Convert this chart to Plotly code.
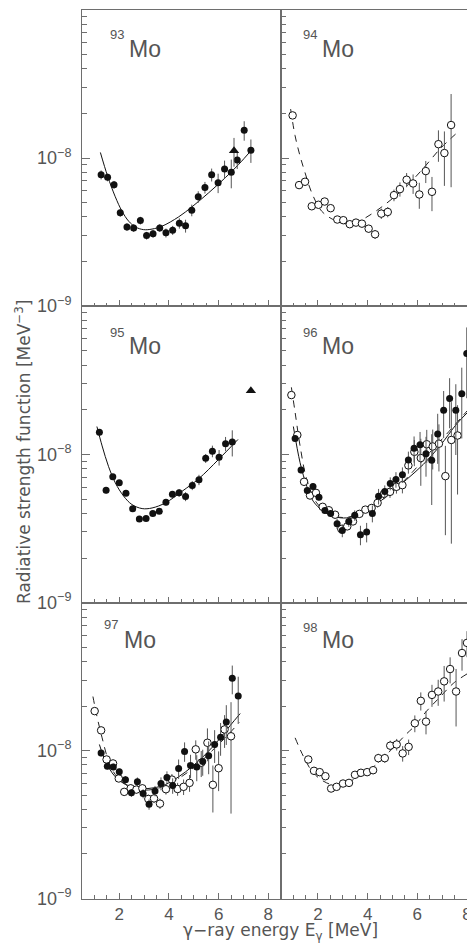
import plotly.graph_objects as go

# ---------------- data (strength values in units of 1e-9 MeV^-3) ----------------
# 93Mo (filled circles + triangle, solid fit)
E93 = [1.27, 1.53, 1.79, 2.04, 2.31, 2.58, 2.85, 3.10, 3.36, 3.63, 3.88, 4.15, 4.42, 4.67,
       4.92, 5.18, 5.45, 5.72, 5.98, 6.24, 6.51, 6.75, 7.03, 7.30]
S93 = [7.7, 7.4, 6.6, 4.26, 3.42, 3.37, 3.78, 2.99, 3.08, 3.37, 3.12, 3.25, 3.62, 3.48,
       4.44, 5.47, 6.32, 7.71, 6.81, 8.42, 8.0, 9.69, 15.4, 11.3]
R93 = [0.07, 0.06, 0.06, 0.06, 0.06, 0.06, 0.06, 0.06, 0.06, 0.06, 0.07, 0.07, 0.08, 0.1,
       0.09, 0.09, 0.09, 0.10, 0.15, 0.14, 0.22, 0.13, 0.15, 0.18]
T93E = [6.62]
T93S = [11.2]
T93R = [0.22]
C93E = [1.24, 1.53, 1.84, 2.11, 2.38, 2.65, 2.98, 3.32, 3.72, 4.39, 4.93, 5.60, 6.27, 6.81, 7.30]
C93S = [10.9, 7.55, 5.47, 4.37, 3.74, 3.42, 3.28, 3.31, 3.46, 4.0, 4.68, 5.82, 7.36, 9.06, 11.2]

# 94Mo (open circles, dashed fit)
E94 = [0.98, 1.24, 1.48, 1.75, 2.02, 2.27, 2.51, 2.78, 3.02, 3.28, 3.53, 3.77, 4.04, 4.30,
       4.55, 4.81, 5.06, 5.30, 5.57, 5.83, 6.08, 6.34, 6.59, 6.85, 7.09, 7.36]
S94 = [19.4, 6.56, 6.91, 4.72, 4.83, 5.08, 4.58, 3.84, 3.80, 3.57, 3.66, 3.60, 3.33, 3.05,
       4.21, 4.32, 5.61, 6.16, 7.13, 6.73, 5.67, 8.16, 5.91, 12.4, 10.8, 16.7]
R94 = [0.03, 0.04, 0.04, 0.04, 0.04, 0.04, 0.04, 0.04, 0.04, 0.04, 0.05, 0.05, 0.06, 0.07,
       0.08, 0.08, 0.09, 0.11, 0.11, 0.15, 0.2, 0.17, 0.26, 0.24, 0.40, 0.62]
C94E = [0.90, 1.08, 1.28, 1.48, 1.75, 2.15, 2.69, 3.16, 3.69, 4.23, 4.90, 5.57, 6.24, 6.91, 7.54]
C94S = [21.4, 14.1, 10.3, 7.96, 5.82, 4.37, 3.78, 3.59, 3.78, 4.26, 5.16, 6.46, 8.51, 11.5, 14.5]

# 95Mo (filled circles + triangle, solid fit)
E95 = [1.20, 1.47, 1.74, 2.00, 2.27, 2.54, 2.81, 3.08, 3.35, 3.61, 3.88, 4.14, 4.41, 4.67,
       4.94, 5.21, 5.48, 5.75, 6.02, 6.28, 6.55]
S95 = [14.1, 5.73, 7.06, 6.43, 5.47, 4.29, 3.67, 3.70, 3.99, 4.13, 4.75, 5.39, 5.50, 5.20,
       6.17, 6.74, 9.4, 10.5, 9.55, 11.8, 12.1]
R95 = [0.04, 0.05, 0.04, 0.04, 0.04, 0.04, 0.04, 0.04, 0.04, 0.04, 0.05, 0.05, 0.06, 0.07,
       0.07, 0.08, 0.07, 0.09, 0.12, 0.11, 0.2]
T95E = [7.30]
T95S = [26.8]
C95E = [1.10, 1.31, 1.57, 1.84, 2.18, 2.51, 2.92, 3.32, 3.86, 4.53, 5.20, 6.00, 6.78]
C95S = [15.4, 11.4, 8.26, 6.43, 5.22, 4.59, 4.31, 4.35, 4.71, 5.64, 6.85, 9.25, 12.6]

# 96Mo (open + filled circles, dashed + solid fits)
E96o = [0.93, 1.17, 1.44, 1.68, 1.92, 2.19, 2.44, 2.69, 2.94, 3.18, 3.41, 3.67, 3.91, 4.16,
        4.40, 4.66, 4.90, 5.16, 5.40, 5.64, 5.88, 6.14, 6.38, 6.62, 6.87, 7.13, 7.37, 7.62]
S96o = [25.1, 13.5, 6.53, 5.28, 5.5, 4.43, 4.2, 3.92, 3.14, 3.27, 3.53, 3.97, 4.24, 4.35,
        4.71, 5.42, 5.59, 6.04, 6.2, 8.42, 10.4, 9.44, 11.7, 11.3, 11.8, 7.13, 12.5, 13.4]
R96o = [0.04, 0.04, 0.04, 0.04, 0.04, 0.04, 0.04, 0.04, 0.05, 0.05, 0.05, 0.05, 0.05, 0.06,
        0.07, 0.08, 0.09, 0.10, 0.12, 0.12, 0.2, 0.35, 0.25, 0.3, 0.35, 0.6, 0.8, 0.6]
E96f = [1.08, 1.32, 1.57, 1.80, 2.04, 2.28, 2.51, 2.77, 2.98, 3.24, 3.48, 3.71, 3.96, 4.19,
        4.44, 4.69, 4.91, 5.14, 5.40, 5.64, 5.87, 6.11, 6.35, 6.58, 6.82, 7.06, 7.30, 7.55,
        7.79, 7.99]
S96f = [12.8, 7.83, 5.70, 6.07, 5.14, 4.18, 4.0, 3.41, 3.07, 3.53, 3.88, 2.87, 3.0, 4.0,
        5.22, 5.61, 6.36, 6.77, 7.29, 9.15, 11.0, 11.6, 10.1, 9.11, 13.7, 19.8, 23.8, 19.8,
        25.6, 47.8]
R96f = [0.05, 0.05, 0.05, 0.05, 0.05, 0.05, 0.05, 0.08, 0.1, 0.08, 0.08, 0.15, 0.15, 0.13,
        0.12, 0.1, 0.1, 0.12, 0.12, 0.14, 0.2, 0.22, 0.3, 0.5, 0.37, 0.35, 0.37, 0.5, 0.5, 0.5]
C96sE = [1.01, 1.28, 1.55, 1.81, 2.22, 2.62, 3.16, 3.69, 4.23, 4.90, 5.57, 6.24, 6.91, 7.58, 8.0]
C96sS = [15.4, 8.79, 6.10, 4.83, 4.13, 3.82, 3.73, 3.99, 4.47, 5.44, 6.77, 8.55, 11.4, 16.0, 19.0]
C96dE = [0.93, 1.08, 1.28, 1.55, 1.95, 2.49, 3.16, 3.83, 4.50, 5.17, 5.84, 6.50, 7.18, 8.0]
C96dS = [28.3, 19.2, 11.4, 6.77, 4.71, 3.92, 3.76, 4.13, 4.83, 5.95, 7.71, 10.3, 13.7, 19.6]

# 97Mo (open + filled circles, dashed + solid fits)
E97o = [1.01, 1.27, 1.49, 1.75, 1.98, 2.20, 2.46, 2.69, 2.93, 3.17, 3.40, 3.64, 3.88, 4.12,
        4.35, 4.59, 4.83, 5.08, 5.30, 5.55, 5.77, 6.00, 6.24, 6.50]
S97o = [18.5, 13.7, 8.71, 8.19, 6.48, 5.26, 5.56, 5.45, 5.56, 4.71, 4.75, 4.38, 5.48, 6.37,
        5.5, 5.69, 6.05, 10.2, 8.28, 11.3, 5.87, 7.6, 13.9, 12.5]
R97o = [0.04, 0.05, 0.05, 0.05, 0.05, 0.05, 0.06, 0.06, 0.06, 0.07, 0.07, 0.08, 0.08, 0.09,
        0.1, 0.12, 0.13, 0.15, 0.2, 0.25, 0.35, 0.3, 0.25, 0.7]
E97f = [1.27, 1.52, 1.76, 2.00, 2.25, 2.49, 2.73, 2.96, 3.20, 3.44, 3.68, 3.92, 4.15, 4.39,
        4.63, 4.87, 5.12, 5.36, 5.60, 5.84, 6.08, 6.31, 6.55, 6.79]
S97f = [9.62, 7.85, 7.76, 7.19, 6.34, 5.18, 6.15, 5.12, 4.33, 5.34, 5.99, 6.58, 5.8, 7.57,
        9.88, 7.94, 7.76, 8.45, 9.23, 11.0, 12.3, 15.6, 30.8, 23.4]
R97f = [0.05, 0.05, 0.05, 0.05, 0.06, 0.06, 0.07, 0.07, 0.08, 0.08, 0.1, 0.1, 0.12, 0.15,
        0.15, 0.18, 0.2, 0.2, 0.25, 0.25, 0.25, 0.3, 0.22, 0.35]
C97sE = [1.20, 1.44, 1.71, 2.04, 2.45, 2.92, 3.39, 3.86, 4.39, 4.93, 5.47, 6.00, 6.47, 6.87]
C97sS = [11.0, 8.49, 7.08, 6.21, 5.74, 5.54, 5.6, 5.9, 6.65, 7.78, 9.42, 11.8, 14.8, 17.8]
C97dE = [0.94, 1.10, 1.31, 1.57, 1.84, 2.25, 2.78, 3.32, 3.86, 4.53, 5.20, 5.87, 6.40, 6.83]
C97dS = [23.2, 17.1, 12.2, 8.49, 6.89, 5.9, 5.45, 5.45, 5.8, 6.71, 8.19, 10.5, 12.9, 15.5]

# 98Mo (open circles, dashed fit)
E98 = [1.61, 1.84, 2.07, 2.30, 2.53, 2.75, 3.01, 3.25, 3.49, 3.73, 3.98, 4.22, 4.43, 4.69,
       4.91, 5.17, 5.41, 5.65, 5.90, 6.14, 6.35, 6.59, 6.84, 7.08, 7.32, 7.56, 7.80, 8.0]
S98 = [8.71, 7.3, 7.15, 6.71, 5.54, 5.69, 5.99, 6.05, 6.86, 7.08, 7.15, 7.37, 8.89, 8.89,
       10.8, 11.0, 9.57, 10.6, 15.3, 21.7, 15.7, 23.8, 25.1, 29.4, 35.6, 25.1, 45.7, 53.5]
R98 = [0.05, 0.05, 0.04, 0.04, 0.04, 0.04, 0.04, 0.04, 0.04, 0.05, 0.05, 0.06, 0.07, 0.07,
       0.08, 0.09, 0.12, 0.12, 0.13, 0.14, 0.18, 0.17, 0.2, 0.27, 0.2, 0.42, 0.24, 0.2]
C98E = [1.08, 1.41, 1.81, 2.35, 2.89, 3.43, 3.96, 4.50, 5.04, 5.57, 5.90, 6.35, 6.90, 7.45, 8.0]
C98S = [12.2, 9.18, 7.08, 6.05, 5.8, 6.37, 7.15, 8.49, 10.5, 13.0, 14.7, 18.3, 22.9, 28.5, 33.0]

LABELS = ["93", "94", "95", "96", "97", "98"]
X_TICKS = [2, 4, 6, 8]
Y_TICKTEXT = ["10<sup>\u22129</sup>", "10<sup>\u22128</sup>", ""]

# ---------------- styling / layout ----------------
W, H = 467, 943
AX = "#6e6e6e"
TXT = "#555555"
INK = "#111111"
FONT = "Liberation Sans, Arial, sans-serif"
TFONT = "DejaVu Sans, Liberation Sans, sans-serif"
UNIT = 1e-9

COLX = [(82 / W, 280.7 / W), (280.7 / W, 1.0)]
ROWS_PX = [(10, 306), (306, 602.7), (602.7, 898.5)]
ROWY = [(1 - b / H, 1 - t / H) for t, b in ROWS_PX]

fig = go.Figure()


def ax_names(i):
    return ("x" if i == 1 else f"x{i}", "y" if i == 1 else f"y{i}")


def scale(vals):
    return [v * UNIT for v in vals]


def add_curve(i, E, S, dashed=False):
    xa, ya = ax_names(i)
    fig.add_trace(go.Scatter(
        x=E, y=scale(S), mode="lines", xaxis=xa, yaxis=ya, showlegend=False,
        line=dict(color=INK if not dashed else "#222222", width=1,
                  dash="7px,6px" if dashed else "solid", shape="spline", smoothing=1.0),
        hoverinfo="skip"))


def add_points(i, E, S, R, kind):
    xa, ya = ax_names(i)
    v = scale(S)
    err = None
    if R is not None:
        err = dict(type="data", array=[a * r for a, r in zip(v, R)],
                   arrayminus=[a * r for a, r in zip(v, R)],
                   color="#555555", thickness=1, width=0, visible=True)
    if kind == "filled":
        marker = dict(symbol="circle", size=7, color=INK, line=dict(width=0))
    elif kind == "open":
        marker = dict(symbol="circle", size=7.5, color="white", line=dict(width=1, color=INK))
    else:
        marker = dict(symbol="triangle-up", size=9, color=INK, line=dict(width=0))
    fig.add_trace(go.Scatter(x=E, y=v, mode="markers", xaxis=xa, yaxis=ya, showlegend=False,
                             marker=marker, error_y=err, cliponaxis=True))


# panel 1: 93Mo
add_curve(1, C93E, C93S)
add_points(1, E93, S93, R93, "filled")
add_points(1, T93E, T93S, T93R, "tri")
# panel 2: 94Mo
add_curve(2, C94E, C94S, dashed=True)
add_points(2, E94, S94, R94, "open")
# panel 3: 95Mo
add_curve(3, C95E, C95S)
add_points(3, E95, S95, R95, "filled")
add_points(3, T95E, T95S, None, "tri")
# panel 4: 96Mo
add_curve(4, C96sE, C96sS)
add_curve(4, C96dE, C96dS, dashed=True)
add_points(4, E96o, S96o, R96o, "open")
add_points(4, E96f, S96f, R96f, "filled")
# panel 5: 97Mo
add_curve(5, C97sE, C97sS)
add_curve(5, C97dE, C97dS, dashed=True)
add_points(5, E97o, S97o, R97o, "open")
add_points(5, E97f, S97f, R97f, "filled")
# panel 6: 98Mo
add_curve(6, C98E, C98S, dashed=True)
add_points(6, E98, S98, R98, "open")

minor_y = [k * 10.0 ** e for e in (-9, -8) for k in range(2, 10)]
ytickfont = dict(family=FONT, size=18, color=TXT)
xtickfont = dict(family=FONT, size=17, color=TXT)

layout = {}
for i in range(1, 7):
    row = (i - 1) // 2
    col = (i - 1) % 2
    xk = "xaxis" if i == 1 else f"xaxis{i}"
    yk = "yaxis" if i == 1 else f"yaxis{i}"
    xa, ya = ax_names(i)
    layout[xk] = dict(
        domain=COLX[col], anchor=ya, range=[0.5, 8.5] if col == 0 else [0.5, 8.0],
        showline=True, linecolor=AX, linewidth=1, mirror=True,
        ticks="inside", ticklen=6, tickwidth=1, tickcolor=AX,
        tickmode="array", tickvals=X_TICKS, ticktext=[str(t) for t in X_TICKS],
        showticklabels=(row == 2), tickfont=xtickfont, ticklabeloverflow="allow",
        minor=dict(ticks="inside", ticklen=3.5, tickwidth=1, tickcolor=AX,
                   dtick=0.5, tick0=0, showgrid=False),
        showgrid=False, zeroline=False, automargin=False, fixedrange=True)
    layout[yk] = dict(
        domain=ROWY[row], anchor=xa, type="log", range=[-9, -7],
        showline=True, linecolor=AX, linewidth=1, mirror=(col == 0),
        ticks="inside", ticklen=8, tickwidth=1, tickcolor=AX,
        tickmode="array", tickvals=[1e-9, 1e-8, 1e-7], ticktext=Y_TICKTEXT,
        showticklabels=(col == 0), tickfont=ytickfont, ticklabelstandoff=6,
        minor=dict(ticks="inside", ticklen=5, tickwidth=1, tickcolor=AX,
                   tickmode="array", tickvals=minor_y, showgrid=False),
        showgrid=False, zeroline=False, automargin=False, fixedrange=True)

annotations = []
# panel labels: (superscript left x, sup center y, Mo left x, Mo center y) in pixels
LABEL_POS = [(108, 34, 127, 49), (300.5, 34, 319.5, 49),
             (108, 332, 127, 345.5), (300.5, 332, 319.5, 345.5),
             (101.5, 624, 122, 640), (300.5, 627, 319.5, 640)]
for lab, (sx, sy, mx, my) in zip(LABELS, LABEL_POS):
    annotations.append(dict(text=lab, x=sx / W, y=1 - sy / H, xref="paper", yref="paper",
                            xanchor="left", yanchor="middle", showarrow=False,
                            font=dict(family=FONT, size=13, color=TXT)))
    annotations.append(dict(text="Mo", x=mx / W, y=1 - my / H, xref="paper", yref="paper",
                            xanchor="left", yanchor="middle", showarrow=False,
                            font=dict(family=FONT, size=23, color=TXT)))

annotations.append(dict(text="Radiative strength function [MeV<sup>\u22123</sup>]",
                        x=23 / W, y=1 - 452 / H, xref="paper", yref="paper",
                        xanchor="center", yanchor="middle", textangle=-90, showarrow=False,
                        font=dict(family=TFONT, size=17, color=TXT)))
annotations.append(dict(text="\u03b3\u2212ray energy E<sub>\u03b3</sub> [MeV]",
                        x=280 / W, y=1 - 931 / H, xref="paper", yref="paper",
                        xanchor="center", yanchor="middle", showarrow=False,
                        font=dict(family=TFONT, size=17, color=TXT)))

fig.update_layout(
    width=W, height=H, margin=dict(l=0, r=0, t=0, b=0),
    paper_bgcolor="white", plot_bgcolor="white",
    showlegend=False, annotations=annotations, font=dict(family=FONT, color=TXT),
    **layout)

fig.write_html("out.html", config={"displayModeBar": False})
